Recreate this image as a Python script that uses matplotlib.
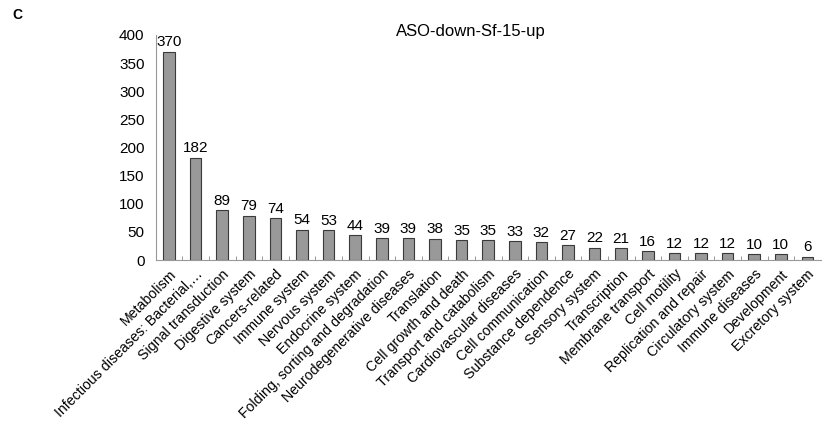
import matplotlib.pyplot as plt
import numpy as np

plt.rcParams['font.family'] = ['Liberation Sans', 'DejaVu Sans']

categories = ['Metabolism', 'Infectious diseases: Bacterial,\u2026', 'Signal transduction',
              'Digestive system', 'Cancers-related', 'Immune system', 'Nervous system',
              'Endocrine system', 'Folding, sorting and degradation',
              'Neurodegenerative diseases', 'Translation', 'Cell growth and death',
              'Transport and catabolism', 'Cardiovascular diseases', 'Cell communication',
              'Substance dependence', 'Sensory system', 'Transcription',
              'Membrane transport', 'Cell motility', 'Replication and repair',
              'Circulatory system', 'Immune diseases', 'Development', 'Excretory system']
counts = [370, 182, 89, 79, 74, 54, 53, 44, 39, 39, 38, 35, 35, 33, 32, 27, 22, 21,
          16, 12, 12, 12, 10, 10, 6]

fig = plt.figure(figsize=(8.24, 4.33), dpi=100)
ax = fig.add_axes([0.189, 0.3995, 0.807, 0.52])

x = np.arange(len(categories))
ax.bar(x, counts, width=0.44, color='#999999', edgecolor='#3a3a3a', linewidth=0.8)
for xi, v in zip(x, counts):
    ax.text(xi, v + 4, str(v), ha='center', va='bottom', fontsize=11)

ax.set_xlim(-0.5, len(categories) - 0.5)
ax.set_ylim(0, 400)
ax.set_yticks(range(0, 401, 50))
ax.tick_params(axis='y', length=0, labelsize=11, pad=8)

ax.set_xticks(x)
ax.set_xticklabels(categories, rotation=45, ha='right', rotation_mode='anchor', fontsize=10.2)
ax.tick_params(axis='x', length=0, pad=5)
ax.set_xticks(x[:-1] + 0.5, minor=True)
ax.tick_params(axis='x', which='minor', length=3, color='#888888', direction='in')

for s in ['top', 'right']:
    ax.spines[s].set_visible(False)
ax.spines['left'].set_color('#999999')
ax.spines['bottom'].set_color('#999999')

fig.text(0.572, 0.928, 'ASO-down-Sf-15-up', ha='center', va='center', fontsize=12)
fig.text(0.015, 0.965, 'C', fontsize=10, fontweight='bold', ha='left', va='center')

fig.savefig('out.png', dpi=100)
